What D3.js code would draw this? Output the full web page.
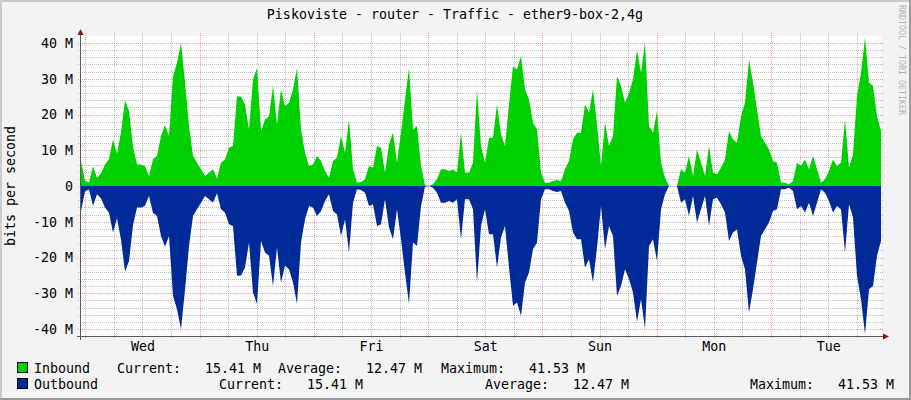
<!DOCTYPE html>
<html>
<head>
<meta charset="utf-8">
<script src="https://cdn.jsdelivr.net/npm/d3@7"></script>
<style>
  body { margin: 0; background: #F3F3F3; }
  svg text { font-family: "DejaVu Sans Mono", monospace; font-size: 13.3px; fill: #000; white-space: pre; }
</style>
</head>
<body>
<svg id="chart"></svg>
<script>
const width = 911;
const height = 400;

// values in M (bits per second), one reading every 4 px from the picture
const inbound = [
    7, 1.5, 1, 5.5, 2.3, 3.5, 6, 7.5, 13, 9, 15, 24, 21, 11, 6, 6, 5.5, 2.8, 7.5, 8.4,
    14, 17, 14, 30.7, 34.5, 40, 29, 16.8, 8.4, 6.5, 4.7, 2.8, 3.7, 4.7,
    2, 6.5, 7.4, 10.7, 11.2, 25.1, 25, 22.8, 15.8, 29.8, 33, 15.4, 18.6, 19.5, 28, 17.2,
    27, 22.3, 23.3, 27, 33, 15.8, 9.3, 5.6, 6, 8.4, 7, 4.2, 2.3, 7, 7.9, 14, 9.3, 18.6,
    4.7, 0.9, 1.1, 1.9, 5.6, 5.1, 11.2, 10.7, 3.7, 11.6, 14.9, 6.5, 14.9, 24.2, 33, 15.8,
    16.8, 5.6, 0.2, 0, 0.5, 1.9, 4.7, 4.7, 4.2, 4.7, 3.7, 14.9, 3.7, 3.7, 6.5, 27, 11.2, 6.5,
    13.5, 13.5, 22.8, 14.4, 11.2, 22.8, 33.5, 32.6, 36.3, 27, 24.2, 17.7, 15.8, 3.7, 0.9, 0.9,
    1.4, 1.7, 1.4, 4.7, 7, 13, 14.9, 14.9, 22.8, 20.5, 27, 17.2, 5.6, 17.7, 11.2, 14, 30.7,
    28, 23.3, 26, 29.8, 38, 31.7, 40, 16.8, 14.9, 21, 6.5, 2.3, 0, 0, 0, 4.7, 3.7, 8.4,
    2.8, 10.2, 6.5, 2.8, 11.2, 3.7, 3.3, 5.1, 7.4, 15.4, 13, 12.1, 19.5, 23.3, 35.4, 28.9,
    21.4, 14, 12.1, 10.2, 7, 6.5, 0.9, 0.9, 0.5, 1.4, 6.5, 5.6, 7.4, 4.7, 8.4, 4.7,
    0.9, 1.9, 4.2, 7.4, 5.6, 6.5, 18.6, 5.1, 8.8, 25.1, 31.7, 41.5, 28.9, 28, 19.5, 15.4
];
// outbound has the same readings, drawn below zero
const outbound = inbound;

const yTicks = [-40, -30, -20, -10, 0, 10, 20, 30, 40];
const dayLabels = ["Wed", "Thu", "Fri", "Sat", "Sun", "Mon", "Tue"];

const title = "Piskoviste - router - Traffic - ether9-box-2,4g";
const legendRows = [
    { name: "Inbound", color: "#00CF00", current: "Current:   15.41 M", average: "Average:   12.47 M", maximum: "Maximum:   41.53 M" },
    { name: "Outbound", color: "#002A97", current: "Current:   15.41 M", average: "Average:   12.47 M", maximum: "Maximum:   41.53 M" }
];

const start = Date.UTC(2023, 2, 7, 23, 6);
const end = start + 7 * 24 * 3600 * 1000;
const step = (end - start) / (inbound.length - 1);
const times = inbound.map((d, i) => new Date(start + i * step));

const plotLeft = 81, plotRight = 881, plotTop = 36, plotBottom = 336;

const svg = d3.select("#chart")
    .attr("width", width)
    .attr("height", height);

// frame
svg.append("rect").attr("width", width).attr("height", height).attr("fill", "#F3F3F3");
svg.append("path").attr("d", `M1,${height} V1 H${width}`).attr("stroke", "#CBCBCB").attr("stroke-width", 2).attr("fill", "none");
svg.append("path").attr("d", `M0,${height - 1} H${width - 1} V0`).attr("stroke", "#999999").attr("stroke-width", 2).attr("fill", "none");

svg.append("rect")
    .attr("x", plotLeft).attr("y", plotTop)
    .attr("width", plotRight - plotLeft).attr("height", plotBottom - plotTop)
    .attr("fill", "#FFFFFF");

const x = d3.scaleUtc()
    .domain([new Date(start), new Date(end)])
    .range([plotLeft, plotRight]);

const y = d3.scaleLinear()
    .domain([-40, 40])
    .range([329, 43]);

// grid
const grid = svg.append("g").attr("stroke-dasharray", "1,1").attr("stroke-width", 1);

d3.range(-40, 41, 2).forEach(v => {
    const yy = Math.round(y(v)) + 0.5;
    grid.append("line")
        .attr("x1", plotLeft - 3).attr("x2", plotRight + 3)
        .attr("y1", yy).attr("y2", yy)
        .attr("stroke", v % 10 === 0 ? "rgba(230,0,0,0.38)" : "rgba(0,0,0,0.25)");
});

d3.utcHour.every(6).range(new Date(start), new Date(end)).forEach(t => {
    const xx = Math.round(x(t)) + 0.5;
    grid.append("line")
        .attr("x1", xx).attr("x2", xx)
        .attr("y1", plotTop - 3).attr("y2", plotBottom + 3)
        .attr("stroke", t.getUTCHours() === 0 ? "rgba(230,0,0,0.38)" : "rgba(0,0,0,0.25)");
});

// areas
const areaIn = d3.area()
    .x((d, i) => x(times[i]))
    .y0(y(0))
    .y1(d => y(d));

const areaOut = d3.area()
    .x((d, i) => x(times[i]))
    .y0(y(0))
    .y1(d => y(-d));

svg.append("path").datum(inbound).attr("d", areaIn).attr("fill", "#00CF00");
svg.append("path").datum(outbound).attr("d", areaOut).attr("fill", "#002A97");

// axis lines and arrows
svg.append("line").attr("x1", 80.5).attr("x2", 80.5).attr("y1", 31).attr("y2", 340).attr("stroke", "#5A5A5A");
svg.append("line").attr("x1", 77).attr("x2", 885).attr("y1", 336.5).attr("y2", 336.5).attr("stroke", "#5A5A5A");
svg.append("path").attr("d", "M80.5,29 L77.5,35 L83.5,35 Z").attr("fill", "#8B1010");
svg.append("path").attr("d", "M889,336.5 L883,333.5 L883,339.5 Z").attr("fill", "#8B1010");

// y axis labels
svg.append("g")
    .attr("transform", `translate(${plotLeft},0)`)
    .call(d3.axisLeft(y).tickValues(yTicks).tickSize(0).tickPadding(8)
        .tickFormat(v => v === 0 ? "0" : v + " M"))
    .call(g => g.select(".domain").remove());

// day labels at noon
const noons = d3.utcDay.range(new Date(start), new Date(end)).map(d => d3.utcHour.offset(d, 12));
svg.append("g")
    .attr("transform", `translate(0,${plotBottom})`)
    .call(d3.axisBottom(x).tickValues(noons).tickSize(0).tickPadding(6)
        .tickFormat((d, i) => dayLabels[i]))
    .call(g => g.select(".domain").remove());

// titles
svg.append("text")
    .attr("x", 455).attr("y", 19)
    .attr("text-anchor", "middle")
    .text(title);

svg.append("text")
    .attr("transform", "translate(15,186) rotate(-90)")
    .attr("text-anchor", "middle")
    .text("bits per second");

svg.append("text")
    .attr("transform", "translate(899,5) rotate(90)")
    .style("font-size", "8.3px")
    .style("fill", "#B4B4B4")
    .text("RRDTOOL / TOBI OETIKER");

// legend
const legendX = [[117, 278, 441], [219, 485, 750]];
legendRows.forEach((row, i) => {
    const base = 373 + i * 16;
    svg.append("rect")
        .attr("x", 17.5).attr("y", base - 10.5)
        .attr("width", 10).attr("height", 10)
        .attr("fill", row.color)
        .attr("stroke", "#000");
    svg.append("text").attr("x", 34).attr("y", base).text(row.name);
    svg.append("text").attr("x", legendX[i][0]).attr("y", base).text(row.current);
    svg.append("text").attr("x", legendX[i][1]).attr("y", base).text(row.average);
    svg.append("text").attr("x", legendX[i][2]).attr("y", base).text(row.maximum);
});
</script>
</body>
</html>
